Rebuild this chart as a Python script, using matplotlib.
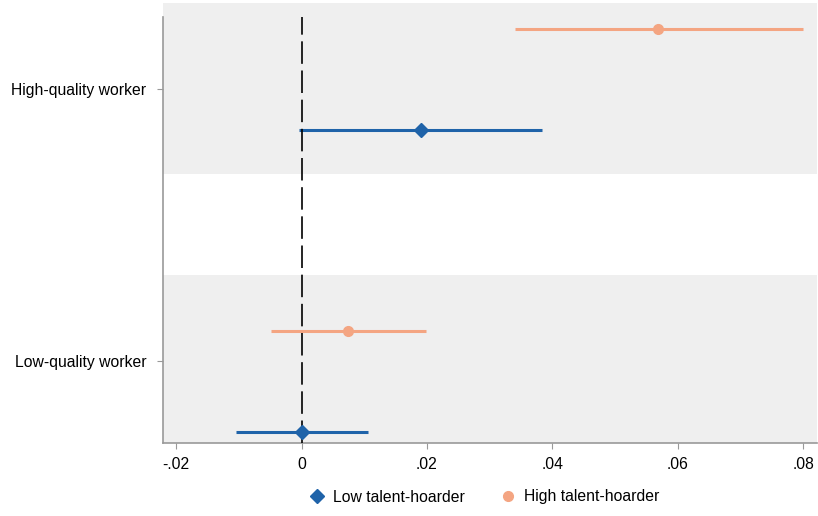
import numpy as np
import matplotlib
matplotlib.use("Agg")
import matplotlib.pyplot as plt

plt.rcParams['font.family'] = ['Liberation Sans', 'DejaVu Sans']

# estimates (coefficient, lower CI, upper CI)
groups = ["High-quality worker", "Low-quality worker"]
low_coef = [0.0191, 0.0000]
low_lo = [-0.0004, -0.0105]
low_hi = [0.0384, 0.0106]
high_coef = [0.0569, 0.0074]
high_lo = [0.0340, -0.0049]
high_hi = [0.0799, 0.0199]
xticks = [-0.02, 0, 0.02, 0.04, 0.06, 0.08]
xlabels = ["-.02", "0", ".02", ".04", ".06", ".08"]

blue = "#1f63a9"
orange = "#f4a582"
band = "#efefef"

# vertical slots (top group first)
y_low = [4, 1]
y_high = [5, 2]
y_tick = [4.41, 1.705]

fig = plt.figure(figsize=(8.18, 5.16), dpi=100)
ax = fig.add_axes([163/818, 1-443/516, (817-163)/818, (443-17)/516])

ax.axhspan(3.56, 5.258, color=band, zorder=0, clip_on=False, lw=0)
ax.axhspan(0.5, 2.556, color=band, zorder=0, lw=0)

ax.axvline(0, color="black", lw=1.2, dashes=(13.5, 4.0), zorder=3)

ax.hlines(y_low, low_lo, low_hi, color=blue, lw=2.2, zorder=2)
ax.hlines(y_high, high_lo, high_hi, color=orange, lw=2.2, zorder=2)
ax.plot(low_coef, y_low, "D", color=blue, ms=7.5, ls="none", zorder=4, label="Low talent-hoarder")
ax.plot(high_coef, y_high, "o", color=orange, ms=7, ls="none", zorder=4, label="High talent-hoarder")

ax.set_xlim(-0.0221, 0.0822)
ax.set_ylim(0.891, 5.12)
ax.set_xticks(xticks)
ax.set_xticklabels(xlabels)
ax.set_yticks(y_tick)
ax.set_yticklabels(groups)

for s in ["top", "right"]:
    ax.spines[s].set_visible(False)
for s in ["left", "bottom"]:
    ax.spines[s].set_color("#999999")
    ax.spines[s].set_linewidth(1.2)
ax.tick_params(axis="both", colors="#999999", labelcolor="black", labelsize=11.3, length=4)
ax.tick_params(axis="x", pad=6)
ax.tick_params(axis="y", pad=8)

fig.legend(loc="center", bbox_to_anchor=(485/818, 1-497/516), ncol=2, frameon=False,
           fontsize=11.3, handlelength=0.8, handletextpad=0.6, columnspacing=2.4, numpoints=1)

fig.savefig("out.png", dpi=100)
